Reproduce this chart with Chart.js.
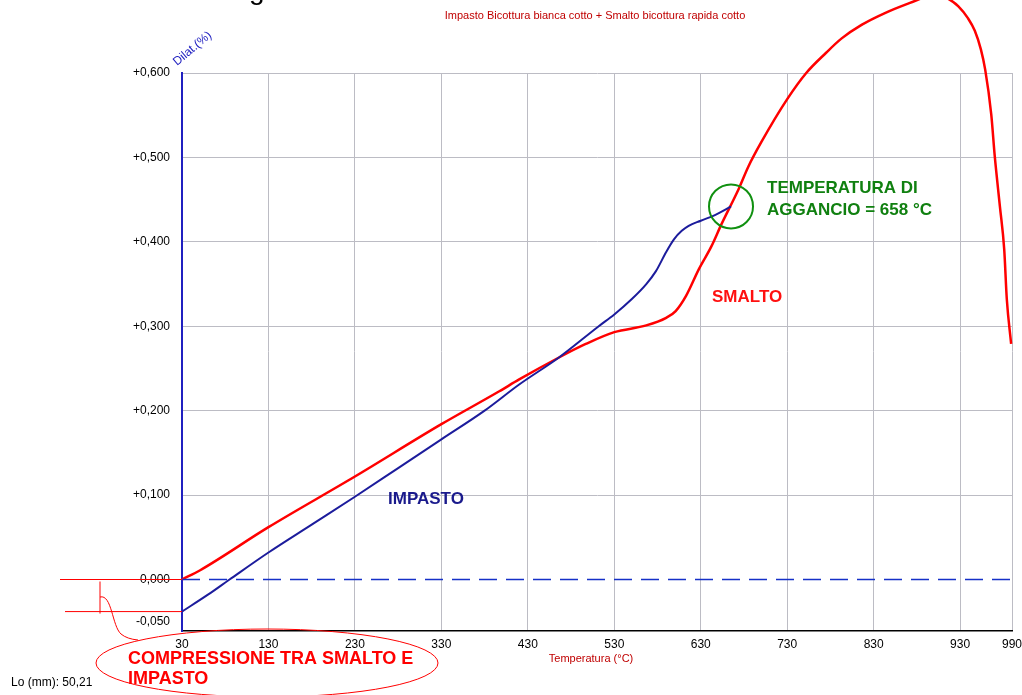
<!DOCTYPE html>
<html>
<head>
<meta charset="utf-8">
<script src="https://cdn.jsdelivr.net/npm/chart.js@4.4.1/dist/chart.umd.min.js"></script>
<style>
  html, body { margin: 0; padding: 0; background: #fff; }
  #wrap { width: 1022px; height: 695px; position: relative; }
</style>
</head>
<body>
<div id="wrap"><canvas id="dilatChart"></canvas></div>
<script>
// temperature ticks (°C) and dilatation ticks (%)
const xTicks = [30, 130, 230, 330, 430, 530, 630, 730, 830, 930, 990];
const yTicks = [-0.05, 0, 0.1, 0.2, 0.3, 0.4, 0.5, 0.6];
const yTickLabels = ['-0,050', '0,000', '+0,100', '+0,200', '+0,300', '+0,400', '+0,500', '+0,600'];

// IMPASTO (body) curve
const impastoT = [30, 60, 85, 130, 180, 230, 280, 330, 380, 420, 466, 512, 530, 550, 567, 578, 590, 599, 608, 616, 630, 647, 665];
const impastoV = [-0.038, -0.018, 0.000, 0.032, 0.065, 0.098, 0.132, 0.166, 0.200, 0.231, 0.263, 0.300, 0.314, 0.332, 0.350, 0.365, 0.388, 0.403, 0.413, 0.419, 0.425, 0.432, 0.442];

// SMALTO (glaze) curve
const smaltoT = [30, 51, 130, 230, 330, 397, 420, 466, 497, 530, 567, 590, 601, 613, 628, 642, 654, 674, 685, 700, 730, 752, 775, 793, 816, 843, 872, 893, 905, 916, 928, 939, 947, 954, 959, 966, 970, 976, 981, 984, 989];
const smaltoV = [0.000, 0.011, 0.062, 0.122, 0.184, 0.223, 0.237, 0.263, 0.279, 0.293, 0.301, 0.310, 0.318, 0.336, 0.368, 0.394, 0.421, 0.463, 0.489, 0.518, 0.569, 0.600, 0.624, 0.641, 0.657, 0.671, 0.683, 0.691, 0.692, 0.688, 0.679, 0.665, 0.650, 0.628, 0.604, 0.551, 0.502, 0.442, 0.391, 0.332, 0.279];

// zero reference line
const zeroT = [30, 990];
const zeroV = [0, 0];

// coupling point marked with the green circle
const aggancioT = 665;
const aggancioV = 0.442;

function toPoints(xs, ys) {
  return xs.map((x, i) => ({ x: x, y: ys[i] }));
}

Chart.defaults.font.family = '"Liberation Sans", Arial, sans-serif';
Chart.defaults.font.size = 12;
Chart.defaults.color = '#000';

const notes = {
  id: 'notes',
  afterDraw(chart) {
    const ctx = chart.ctx;
    const xs = chart.scales.x, ys = chart.scales.y;
    const left = chart.chartArea.left;
    const y0 = ys.getPixelForValue(0);
    const yStart = ys.getPixelForValue(impastoV[0]);
    ctx.save();

    // cut-off heading fragment
    ctx.fillStyle = '#000';
    ctx.font = '28px "Liberation Sans", Arial, sans-serif';
    ctx.textBaseline = 'alphabetic';
    ctx.fillText('g', 249, -1);

    // title
    ctx.fillStyle = '#c00000';
    ctx.font = '11px "Liberation Sans", Arial, sans-serif';
    ctx.textAlign = 'center';
    ctx.textBaseline = 'middle';
    ctx.fillText('Impasto Bicottura bianca cotto + Smalto bicottura rapida cotto', 595, 16);

    // x axis title
    ctx.fillText('Temperatura (°C)', 591, 659);

    // y axis title, slanted
    ctx.save();
    ctx.translate(177, 66);
    ctx.rotate(-40 * Math.PI / 180);
    ctx.fillStyle = '#2020c0';
    ctx.font = '12px "Liberation Sans", Arial, sans-serif';
    ctx.textAlign = 'left';
    ctx.textBaseline = 'alphabetic';
    ctx.fillText('Dilat.(%)', 0, 0);
    ctx.restore();

    // compression marker on the left
    ctx.strokeStyle = '#ff0000';
    ctx.lineWidth = 1;
    ctx.beginPath();
    ctx.moveTo(60, y0); ctx.lineTo(left, y0);
    ctx.moveTo(65, yStart); ctx.lineTo(left, yStart);
    ctx.moveTo(100, y0 + 2); ctx.lineTo(100, yStart + 2);
    ctx.moveTo(100, 597);
    ctx.bezierCurveTo(112, 594, 112, 626, 121, 634);
    ctx.quadraticCurveTo(127, 639, 138, 640);
    ctx.stroke();

    ctx.beginPath();
    ctx.ellipse(267, 663, 171, 34, 0, 0, Math.PI * 2);
    ctx.stroke();

    // green circle at coupling temperature
    ctx.strokeStyle = '#109010';
    ctx.lineWidth = 2;
    ctx.beginPath();
    ctx.arc(xs.getPixelForValue(aggancioT), ys.getPixelForValue(aggancioV), 22, 0, Math.PI * 2);
    ctx.stroke();

    ctx.textAlign = 'left';
    ctx.textBaseline = 'alphabetic';
    ctx.font = 'bold 17px "Liberation Sans", Arial, sans-serif';
    ctx.fillStyle = '#108010';
    ctx.fillText('TEMPERATURA DI', 767, 193);
    ctx.fillText('AGGANCIO = 658 °C', 767, 215);

    ctx.fillStyle = '#ff1010';
    ctx.fillText('SMALTO', 712, 302);

    ctx.fillStyle = '#1a1a8c';
    ctx.fillText('IMPASTO', 388, 504);

    ctx.fillStyle = '#ff0000';
    ctx.font = 'bold 18px "Liberation Sans", Arial, sans-serif';
    ctx.fillText('COMPRESSIONE TRA SMALTO E', 128, 664);
    ctx.fillText('IMPASTO', 128, 684);

    ctx.fillStyle = '#000';
    ctx.font = '12px "Liberation Sans", Arial, sans-serif';
    ctx.textBaseline = 'middle';
    ctx.fillText('Lo (mm): 50,21', 11, 683);

    ctx.restore();
  }
};

new Chart(document.getElementById('dilatChart'), {
  type: 'line',
  data: {
    datasets: [
      {
        label: 'zero',
        data: toPoints(zeroT, zeroV),
        borderColor: '#1530c8',
        borderWidth: 1.5,
        borderDash: [18, 9],
        pointRadius: 0
      },
      {
        label: 'IMPASTO',
        data: toPoints(impastoT, impastoV),
        borderColor: '#1c1c9c',
        borderWidth: 2,
        pointRadius: 0,
        cubicInterpolationMode: 'monotone'
      },
      {
        label: 'SMALTO',
        data: toPoints(smaltoT, smaltoV),
        borderColor: '#ff0000',
        borderWidth: 2.5,
        pointRadius: 0,
        cubicInterpolationMode: 'monotone',
        clip: false
      }
    ]
  },
  options: {
    responsive: true,
    maintainAspectRatio: false,
    devicePixelRatio: 1,
    animation: false,
    layout: { padding: { top: 73, right: 10, left: 0, bottom: 0 } },
    plugins: {
      legend: { display: false },
      tooltip: { enabled: false }
    },
    scales: {
      x: {
        type: 'linear',
        min: 30,
        max: 990,
        afterBuildTicks: (s) => { s.ticks = xTicks.map(v => ({ value: v })); },
        afterFit: (s) => { s.height = 64; s.paddingRight = 0; s.paddingLeft = 0; },
        ticks: { padding: 6, maxRotation: 0, autoSkip: false, color: '#000' },
        grid: { color: '#bcbcc4', lineWidth: 1, drawTicks: false },
        border: { color: '#000', width: 1.5 }
      },
      y: {
        type: 'linear',
        min: -0.061,
        max: 0.6,
        afterBuildTicks: (s) => { s.ticks = yTicks.map(v => ({ value: v })); },
        afterFit: (s) => { s.width = 182; s.paddingTop = 0; s.paddingBottom = 0; },
        ticks: {
          padding: 12,
          autoSkip: false,
          color: '#000',
          callback: (v, i) => yTickLabels[i]
        },
        grid: {
          drawTicks: false,
          lineWidth: 1,
          color: (c) => (c.tick && c.tick.value <= 0) ? 'rgba(0,0,0,0)' : '#bcbcc4'
        },
        border: { color: '#2020c0', width: 2 }
      }
    }
  },
  plugins: [notes]
});
</script>
</body>
</html>
